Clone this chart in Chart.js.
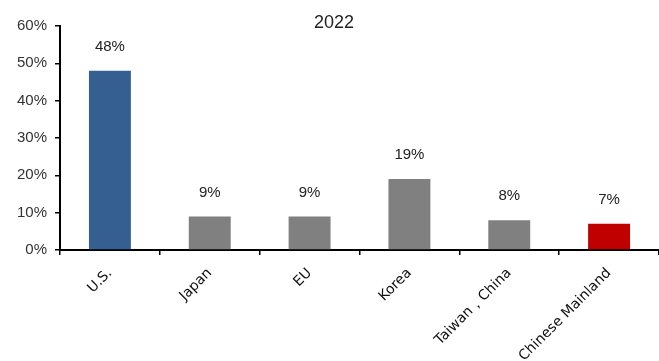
<!DOCTYPE html>
<html>
<head>
<meta charset="utf-8">
<script src="https://cdn.jsdelivr.net/npm/chart.js@4.4.0/dist/chart.umd.min.js"></script>
<style>
  html, body { margin: 0; padding: 0; background: #fff; }
  #wrap { width: 659px; height: 361px; }
</style>
</head>
<body>
<div id="wrap"><canvas id="myChart" width="659" height="361"></canvas></div>
<script>
const regions = ['U.S.', 'Japan', 'EU', 'Korea', 'Taiwan，China', 'Chinese Mainland'];
const shares = [48, 9, 9, 19, 8, 7];
const barColors = ['#365f91', '#808080', '#808080', '#808080', '#808080', '#c00000'];
const yTicks = [0, 10, 20, 30, 40, 50, 60];
const chartTitle = '2022';

const numFont = '"Liberation Sans", Arial, sans-serif';
const labelFont = '"DejaVu Sans", sans-serif';

// title sits inside the plot area, so draw it by hand
const titlePlugin = {
    id: 'titleInside',
    afterDraw(chart) {
        const ctx = chart.ctx;
        ctx.save();
        ctx.font = '18px ' + numFont;
        ctx.fillStyle = '#222';
        ctx.textAlign = 'center';
        ctx.textBaseline = 'middle';
        ctx.fillText(chartTitle, 334, 23);
        ctx.restore();
    }
};

// value labels over the bars
const valuePlugin = {
    id: 'valueLabels',
    afterDatasetsDraw(chart) {
        const ctx = chart.ctx;
        const meta = chart.getDatasetMeta(0);
        ctx.save();
        ctx.font = '15px ' + numFont;
        ctx.fillStyle = '#222';
        ctx.textAlign = 'center';
        ctx.textBaseline = 'middle';
        meta.data.forEach((bar, i) => {
            ctx.fillText(shares[i] + '%', bar.x, bar.y - 24);
        });
        ctx.restore();
    }
};

const ctx = document.getElementById('myChart').getContext('2d');
const myChart = new Chart(ctx, {
    type: 'bar',
    data: {
        labels: regions,
        datasets: [{
            data: shares,
            backgroundColor: barColors,
            borderWidth: 0,
            categoryPercentage: 1,
            barPercentage: 0.42
        }]
    },
    options: {
        responsive: false,
        animation: false,
        layout: { padding: { top: 26, right: 0, left: 0, bottom: 0 } },
        plugins: {
            legend: { display: false },
            tooltip: { enabled: false }
        },
        scales: {
            x: {
                grid: {
                    drawOnChartArea: false,
                    drawTicks: true,
                    tickLength: 5,
                    color: '#000',
                    lineWidth: 1.5
                },
                border: { display: true, color: '#000', width: 2 },
                ticks: {
                    color: '#111',
                    font: { size: 14, family: labelFont },
                    minRotation: 45,
                    maxRotation: 45,
                    padding: 10,
                    autoSkip: false
                },
                afterFit(scale) { scale.height = 111; }
            },
            y: {
                min: 0,
                max: 60,
                afterBuildTicks(scale) {
                    scale.ticks = yTicks.map(v => ({ value: v }));
                },
                grid: {
                    drawOnChartArea: false,
                    drawTicks: true,
                    tickLength: 5,
                    color: '#000',
                    lineWidth: 1.5
                },
                border: { display: true, color: '#000', width: 2 },
                ticks: {
                    color: '#333',
                    font: { size: 15, family: numFont },
                    padding: 8,
                    callback: v => v + '%'
                },
                afterFit(scale) { scale.width = 60; }
            }
        }
    },
    plugins: [titlePlugin, valuePlugin]
});
</script>
</body>
</html>
